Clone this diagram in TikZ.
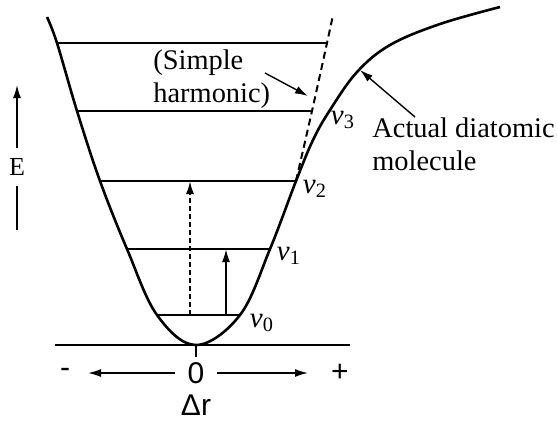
\documentclass[tikz,border=0pt]{standalone}
\usepackage{fontspec}
\setmainfont{Liberation Serif}
\newfontfamily\axisfont{Liberation Sans}
\usetikzlibrary{arrows.meta}

\begin{document}
\begin{tikzpicture}[x=0.5pt,y=-0.5pt,>={Latex[length=6.5pt,width=4pt]},
		well/.style={line width=1.3pt},
		level/.style={line width=0.9pt},
		lbl/.style={font=\fontsize{14.2}{16.5}\selectfont,inner sep=0pt,align=left},
		vlbl/.style={font=\fontsize{14.5}{16}\selectfont,inner sep=0pt},
		ax/.style={font=\axisfont\fontsize{15}{17}\selectfont,inner sep=0pt}]
		\useasboundingbox (0,0) rectangle (557,420);
		% potential curves
		\draw[well] plot[smooth,tension=0.6] coordinates {(47,17) (57,43) (77,111) (100,181) (127,249) (157,315) (196,345) (240,315) (270,249) (296,181) (313,140) (330,110) (357,72) (390,45) (440,24) (500,7)};
		\draw[line width=1pt,dash pattern=on 3.5pt off 2.2pt] plot[smooth] coordinates {(296,181) (312,111) (327,43) (333,15)};
		% levels
		\draw[level] (57,43) -- (327,43);
		\draw[level] (77,111) -- (312,111);
		\draw[level] (100,181) -- (296,181);
		\draw[level] (127,249) -- (270,249);
		\draw[level] (157,315) -- (240,315);
		\draw[level] (55,345) -- (350,345);
		\draw[level] (196,345) -- (196,357);
		\node[vlbl] (v0) at (262,323) {\textit{v}\textsubscript{0}};
		\node[vlbl] (v1) at (289,256) {\textit{v}\textsubscript{1}};
		\node[vlbl] (v2) at (315,189) {\textit{v}\textsubscript{2}};
		\node[vlbl] (v3) at (343,120) {\textit{v}\textsubscript{3}};
		% transitions
		\coordinate (a0) at (190,315);
		\coordinate (a2) at (190,181);
		\coordinate (b0) at (226,315);
		\coordinate (b1) at (226,249);
		\draw[->,line width=1pt,dash pattern=on 2.5pt off 1.5pt] (a0) -- (a2);
		\draw[->,line width=1pt] (b0) -- (b1);
		% labels
		\node[lbl,anchor=west] (sh) at (153,79) {(Simple\\harmonic)};
		\coordinate (shtail) at (265,73);
		\coordinate (shtip) at (308,96);
		\draw[->,line width=0.7pt] (shtail) -- (shtip);
		\node[lbl,anchor=west] (ad) at (372,144) {Actual diatomic\\molecule};
		\coordinate (adtail) at (415,117);
		\coordinate (adtip) at (360,70);
		\draw[->,line width=0.7pt] (adtail) -- (adtip);
		\node[font=\fontsize{13}{14}\selectfont,inner sep=5pt] (E) at (17,167) {E};
		\coordinate (Etop) at (17,85);
		\coordinate (Ebot) at (17,230);
		\draw[->,line width=0.8pt] (E) -- (Etop);
		\draw[line width=0.8pt] (E) -- (Ebot);
		% displacement axis
		\node[ax,inner sep=6pt] (zero) at (196,373) {0};
		\node[ax] (minus) at (65,373) {-};
		\node[ax] (plus) at (340,373) {+};
		\node[ax] (dr) at (196,405) {Δr};
		\coordinate (left) at (88,373);
		\coordinate (right) at (308,373);
		\draw[->,line width=0.8pt] (zero) -- (left);
		\draw[->,line width=0.8pt] (zero) -- (right);
	\end{tikzpicture}
\end{document}
